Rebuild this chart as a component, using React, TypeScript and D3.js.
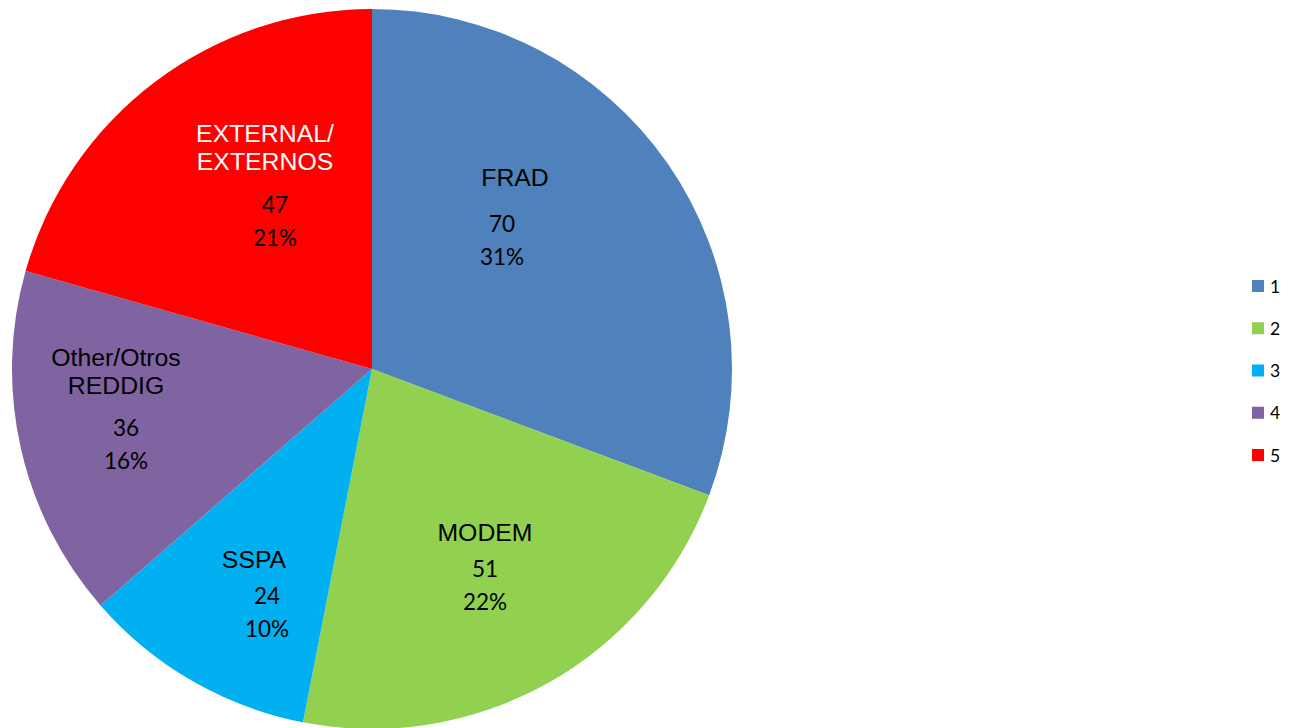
import React from "react";
import * as d3 from "d3";

const categories = ["FRAD", "MODEM", "SSPA", "Other/Otros REDDIG", "EXTERNAL/ EXTERNOS"];
const nameLines = [["FRAD"], ["MODEM"], ["SSPA"], ["Other/Otros", "REDDIG"], ["EXTERNAL/", "EXTERNOS"]];
const values = [70, 51, 24, 36, 47];
const percents = ["31%", "22%", "10%", "16%", "21%"];
const legendLabels = ["1", "2", "3", "4", "5"];
const colors = ["#4F81BD", "#92D050", "#00B0F0", "#8064A2", "#FF0000"];
const nameColors = ["#000", "#000", "#000", "#000", "#fff"];

// layout (label block offsets relative to the pie center)
const W = 1297, H = 728;
const CX = 372, CY = 369, R = 360;
const labelLayout = [
  { nx: 143, ny: -192, vx: 130, vy: -146 },
  { nx: 113, ny: 163, vx: 113, vy: 199 },
  { nx: -118, ny: 190, vx: -105, vy: 226 },
  { nx: -256, ny: -12, vx: -246, vy: 58 },
  { nx: -107, ny: -236, vx: -97, vy: -165 },
];

export default function App() {
  const pie = d3.pie<number>().sort(null).value((d) => d)(values);
  const arc = d3.arc<d3.PieArcDatum<number>>().innerRadius(0).outerRadius(R);
  const legendY = d3.scalePoint<string>().domain(legendLabels).range([286, 455]);
  return (
    <svg width={W} height={H} style={{ position: "absolute", left: 0, top: 0, background: "#fff" }}>
      <g transform={`translate(${CX},${CY})`}>
        {pie.map((p, i) => (
          <path key={categories[i]} d={arc(p) || ""} fill={colors[i]} />
        ))}
        {pie.map((p, i) => {
          const L = labelLayout[i];
          return (
            <g key={"l" + i}>
              {nameLines[i].map((t, j) => (
                <text key={j} x={L.nx} y={L.ny + j * 28} textAnchor="middle" dominantBaseline="central"
                  fontFamily="'Liberation Sans', Arial, sans-serif" fontSize={24.8} fill={nameColors[i]}>{t}</text>
              ))}
              <text x={L.vx} y={L.vy} textAnchor="middle" dominantBaseline="central"
                fontFamily="Lato, 'Open Sans', sans-serif" fontSize={22.5} fill="#000">{p.data}</text>
              <text x={L.vx} y={L.vy + 33} textAnchor="middle" dominantBaseline="central"
                fontFamily="Lato, 'Open Sans', sans-serif" fontSize={22.5} fill="#000">{percents[i]}</text>
            </g>
          );
        })}
      </g>
      <g>
        {legendLabels.map((l, i) => (
          <g key={l} transform={`translate(1252,${legendY(l)})`}>
            <rect x={0} y={-6} width={12} height={12} fill={colors[i]} />
            <text x={18} y={0} dominantBaseline="central" fontFamily="Lato, 'Open Sans', sans-serif" fontSize={17.5} fill="#000">{l}</text>
          </g>
        ))}
      </g>
    </svg>
  );
}
